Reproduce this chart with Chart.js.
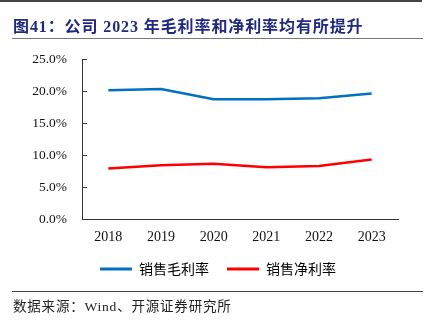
<!DOCTYPE html>
<html>
<head>
<meta charset="utf-8">
<script src="https://cdn.jsdelivr.net/npm/chart.js@4"></script>
<style>
  html, body { margin: 0; padding: 0; background: #fff; }
  #wrap { position: relative; width: 436px; height: 324px; overflow: hidden; }
  #chart { position: absolute; left: 0; top: 0; }
  .rule { position: absolute; height: 0; }
  #title { position: absolute; left: 13px; top: 13px; font: bold 16px "Liberation Serif", "Noto Sans CJK SC", serif; color: #1f2a80; white-space: nowrap; letter-spacing: 0.9px; }
  #source { position: absolute; left: 13px; top: 295px; font: 13.5px "Liberation Serif", "Noto Sans CJK SC", serif; color: #222; white-space: nowrap; letter-spacing: 0.8px; }
</style>
</head>
<body>
<div id="wrap">
  <canvas id="chart" width="436" height="324"></canvas>
  <div class="rule" style="left:0;top:0;width:422px;border-top:2px solid #444;"></div>
  <div id="title">图41：公司 2023 年毛利率和净利率均有所提升</div>
  <div class="rule" style="left:12px;top:38px;width:411px;border-top:1px solid #777;"></div>
  <div class="rule" style="left:12px;top:291px;width:411px;border-top:1px solid #444;"></div>
  <div id="source">数据来源：Wind、开源证券研究所</div>
</div>
<script>
// 公司毛利率 / 净利率 (%)
const years = ['2018', '2019', '2020', '2021', '2022', '2023'];
const grossMargin = [20.1, 20.3, 18.7, 18.7, 18.85, 19.6];
const netMargin = [7.9, 8.4, 8.65, 8.1, 8.3, 9.3];
const yTicks = [0, 5, 10, 15, 20, 25];

const axisColor = '#333';

new Chart(document.getElementById('chart'), {
  type: 'line',
  data: {
    labels: years,
    datasets: [
      { label: '销售毛利率', data: grossMargin, borderColor: '#0070c0', backgroundColor: '#0070c0', borderWidth: 2.5, pointRadius: 0, tension: 0, fill: false },
      { label: '销售净利率', data: netMargin, borderColor: '#ff0000', backgroundColor: '#ff0000', borderWidth: 2.5, pointRadius: 0, tension: 0, fill: false }
    ]
  },
  options: {
    responsive: false,
    animation: false,
    layout: { padding: { left: 0, right: 0, top: 59, bottom: 38 } },
    plugins: {
      tooltip: { enabled: false },
      legend: {
        position: 'bottom',
        labels: {
          boxWidth: 32,
          boxHeight: 3,
          padding: 18,
          color: '#111',
          font: { family: '"Noto Sans CJK SC", sans-serif', size: 14 },
          generateLabels: chart => chart.data.datasets.map((d, i) => ({
            text: d.label, fillStyle: d.borderColor, strokeStyle: d.borderColor, lineWidth: 0, datasetIndex: i
          }))
        }
      }
    },
    scales: {
      x: {
        offset: true,
        grid: { display: false, drawTicks: false },
        border: { display: true, color: axisColor, width: 1 },
        ticks: { color: '#111', padding: 10, font: { family: '"Liberation Serif", serif', size: 14 } },
        afterFit: s => { s.height = 25; }
      },
      y: {
        min: 0,
        max: 25,
        afterBuildTicks: s => { s.ticks = yTicks.map(v => ({ value: v })); },
        grid: { drawOnChartArea: false, drawTicks: true, tickLength: -5, color: axisColor },
        border: { display: true, color: axisColor, width: 1 },
        ticks: { color: '#111', padding: 20, callback: v => v.toFixed(1) + '%', font: { family: '"Liberation Serif", serif', size: 13.5 } },
        afterFit: s => { s.width = 82; }
      },
      // empty right-hand spacer so the plot ends where the reference does
      yRight: {
        position: 'right',
        min: 0,
        max: 25,
        grid: { display: false },
        border: { display: false },
        ticks: { display: false },
        afterFit: s => { s.width = 38; }
      }
    }
  }
});
</script>
</body>
</html>
